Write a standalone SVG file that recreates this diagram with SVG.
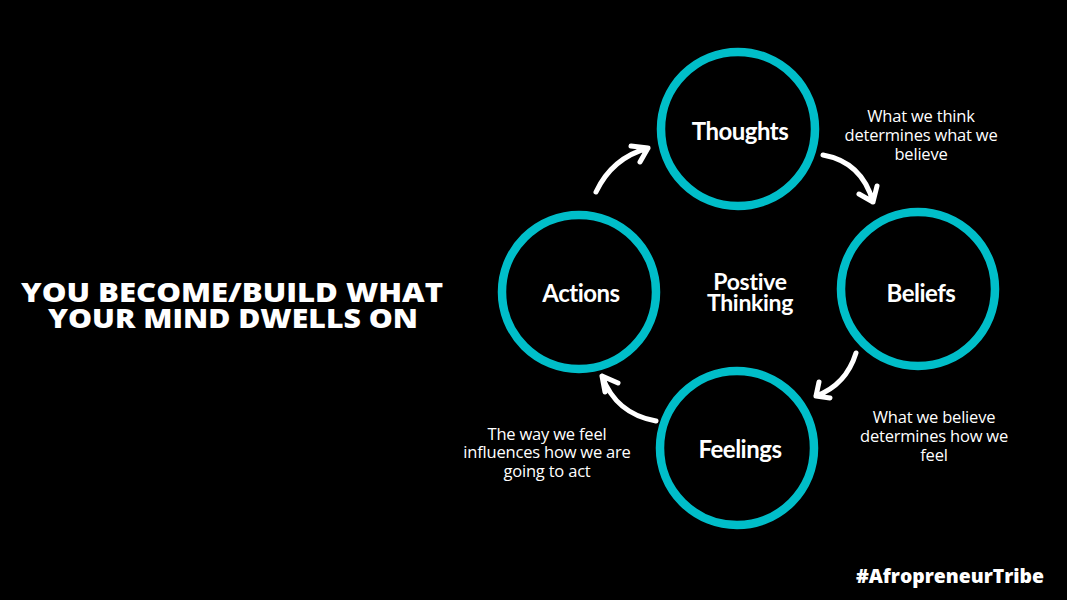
<svg xmlns="http://www.w3.org/2000/svg" width="1067" height="600" viewBox="0 0 1067 600">
<defs>
<style>
.ring{fill:none;stroke:#00bec9;stroke-width:8.5}
.lbl{font-family:Lato,"Open Sans",sans-serif;font-weight:700;font-size:24px;fill:#fff;text-anchor:middle;letter-spacing:-0.5px}
.mid{font-family:Lato,"Open Sans",sans-serif;font-weight:700;font-size:23px;fill:#fff;text-anchor:middle;letter-spacing:-0.3px}
.note{font-family:"Open Sans","Liberation Sans",sans-serif;font-size:16.5px;fill:#fff;text-anchor:middle;letter-spacing:-0.2px}
.title{font-family:"Open Sans","Liberation Sans",sans-serif;font-weight:800;font-size:27px;fill:#fff;text-anchor:middle}
.arr{fill:none;stroke:#fff;stroke-width:5;stroke-linecap:round;stroke-linejoin:round}
</style>
</defs>
<rect width="1067" height="600" fill="#000"/>
<g id="title">
<text class="title" x="232" y="302" textLength="422" lengthAdjust="spacingAndGlyphs">YOU BECOME/BUILD WHAT</text>
<text class="title" x="233" y="328" textLength="370" lengthAdjust="spacingAndGlyphs">YOUR MIND DWELLS ON</text>
</g>
<g id="center">
<text class="mid" x="750" y="290">Postive</text>
<text class="mid" x="750" y="311">Thinking</text>
</g>
<g id="thoughts">
<circle class="ring" cx="738" cy="129" r="77"/>
<text class="lbl" x="740" y="140">Thoughts</text>
</g>
<g id="beliefs">
<circle class="ring" cx="918" cy="289" r="77"/>
<text class="lbl" x="921" y="302">Beliefs</text>
</g>
<g id="feelings">
<circle class="ring" cx="737" cy="448" r="77"/>
<text class="lbl" x="740" y="458">Feelings</text>
</g>
<g id="actions">
<circle class="ring" cx="579" cy="292" r="77"/>
<text class="lbl" x="581" y="302">Actions</text>
</g>
<g id="notes">
<text class="note" x="921" y="122">What we think</text>
<text class="note" x="921" y="141">determines what we</text>
<text class="note" x="921" y="160">believe</text>
<text class="note" x="934" y="423">What we believe</text>
<text class="note" x="934" y="442">determines how we</text>
<text class="note" x="934" y="461">feel</text>
<text class="note" x="547" y="440">The way we feel</text>
<text class="note" x="547" y="458">influences how we are</text>
<text class="note" x="547" y="477">going to act</text>
</g>
<g id="connectors">
<path class="arr" d="M596,192 Q612,158 648,148 M631,146 L648,148 L640,162"/>
<path class="arr" d="M823,155 Q862,162 873,202 M859,194 L873,202 L877,186"/>
<path class="arr" d="M856,353 Q846,385 816,396 M830,398 L816,396 L819,382"/>
<path class="arr" d="M656,421 Q616,414 602,376 M618,383 L602,376 L605,392"/>
</g>
<text x="950" y="583" font-family="'Open Sans','Liberation Sans',sans-serif" font-weight="800" font-size="20" fill="#fff" text-anchor="middle" textLength="188" lengthAdjust="spacingAndGlyphs">#AfropreneurTribe</text>
</svg>
